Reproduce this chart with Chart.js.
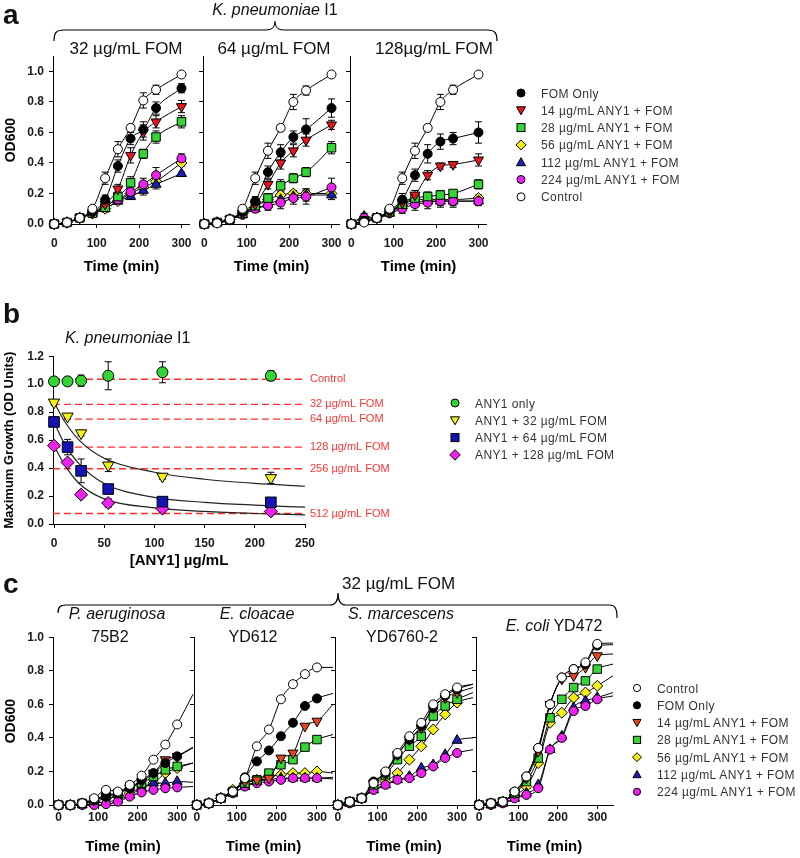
<!DOCTYPE html>
<html>
<head>
<meta charset="utf-8">
<script src="https://cdn.jsdelivr.net/npm/chart.js@4.4.1/dist/chart.umd.min.js"></script>
<style>
html, body { margin: 0; padding: 0; background: #fff; }
#page { position: relative; width: 800px; height: 858px; overflow: hidden; font-family: "Liberation Sans", Arial, sans-serif; }
#page canvas { position: absolute; }
#overlay { position: absolute; left: 0; top: 0; }
#overlay text { fill: #111; font-family: "Liberation Sans", Arial, sans-serif; }
</style>
</head>
<body>
<div id="page">
  <canvas id="a0"></canvas><canvas id="a1"></canvas><canvas id="a2"></canvas>
  <canvas id="b0"></canvas>
  <canvas id="c0"></canvas><canvas id="c1"></canvas><canvas id="c2"></canvas><canvas id="c3"></canvas>
  <svg id="overlay" width="800" height="858">
    <!-- panel a -->
    <text x="3" y="24" font-size="28" font-weight="bold">a</text>
    <text x="275" y="15" font-size="16" text-anchor="middle"><tspan font-style="italic">K. pneumoniae</tspan> I1</text>
    <path d="M54,41 C54,33 56,30 64,30 L266,30 C272,30 275,28 275,21 C275,28 278,30 284,30 L487,30 C495,30 497,33 497,41" fill="none" stroke="#000" stroke-width="1.2"/>
    <text x="126" y="54" font-size="17" text-anchor="middle">32 µg/mL FOM</text>
    <text x="274" y="54" font-size="17" text-anchor="middle">64 µg/mL FOM</text>
    <text x="434" y="54" font-size="17" text-anchor="middle">128µg/mL FOM</text>
    <!-- panel b -->
    <text x="3" y="323" font-size="28" font-weight="bold">b</text>
    <text x="65" y="343" font-size="16"><tspan font-style="italic">K. pneumoniae</tspan> I1</text>
    <!-- panel c -->
    <text x="3" y="593" font-size="28" font-weight="bold">c</text>
    <text x="342" y="589" font-size="17">32 µg/mL FOM</text>
    <path d="M58,613 C58,607 60,605 66,605 L330,605 C336,605 338,601 338,593 C338,601 340,605 346,605 L609,605 C615,605 617,608 617,618" fill="none" stroke="#000" stroke-width="1.2"/>
    <text x="117" y="619" font-size="16" font-style="italic" text-anchor="middle">P. aeruginosa</text>
    <text x="110" y="642" font-size="16" text-anchor="middle">75B2</text>
    <text x="257" y="619" font-size="16" font-style="italic" text-anchor="middle">E. cloacae</text>
    <text x="253" y="642" font-size="16" text-anchor="middle">YD612</text>
    <text x="401" y="619" font-size="16" font-style="italic" text-anchor="middle">S. marcescens</text>
    <text x="402" y="642" font-size="16" text-anchor="middle">YD6760-2</text>
    <text x="554" y="631" font-size="16" text-anchor="middle"><tspan font-style="italic">E. coli</tspan> YD472</text>
    <g id="legends"></g>
  </svg>
</div>
<script>
// ===== data =====
const seriesNames = ['FOM Only', '14 µg/mL ANY1 + FOM', '28 µg/mL ANY1 + FOM', '56 µg/mL ANY1 + FOM',
    '112 µg/mL ANY1 + FOM', '224 µg/mL ANY1 + FOM', 'Control'];

// tick values
const ticksTime = [0, 100, 200, 300];
const ticksOD = [0, 0.2, 0.4, 0.6, 0.8, 1.0];
const ticksDose = [0, 50, 100, 150, 200, 250];
const ticksMaxGrowth = [0, 0.2, 0.4, 0.6, 0.8, 1.0, 1.2];

// panel a: K. pneumoniae I1, one row per FOM level (32, 64, 128 µg/mL)
const timesA = [0, 30, 60, 90, 120, 150, 180, 210, 240, 300];
const aFomOnly = [
    [0, 0.01, 0.04, 0.08, 0.16, 0.38, 0.56, 0.62, 0.76, 0.89],
    [0, 0.01, 0.03, 0.08, 0.15, 0.34, 0.47, 0.57, 0.62, 0.76],
    [0, 0.02, 0.04, 0.09, 0.16, 0.32, 0.46, 0.54, 0.56, 0.60]];
const aAny14 = [
    [0, 0.01, 0.04, 0.07, 0.13, 0.23, 0.45, 0.60, 0.67, 0.77],
    [0, 0.01, 0.03, 0.07, 0.13, 0.26, 0.40, 0.48, 0.55, 0.65],
    [0, 0.02, 0.04, 0.08, 0.14, 0.19, 0.32, 0.38, 0.39, 0.42]];
const aAny28 = [
    [0, 0.01, 0.04, 0.07, 0.11, 0.18, 0.27, 0.46, 0.57, 0.67],
    [0, 0.01, 0.03, 0.07, 0.12, 0.17, 0.25, 0.30, 0.34, 0.50],
    [0, 0.02, 0.04, 0.08, 0.13, 0.17, 0.18, 0.19, 0.20, 0.26]];
const aAny56 = [
    [0, 0.01, 0.04, 0.07, 0.10, 0.15, 0.20, 0.24, 0.28, 0.40],
    [0, 0.01, 0.03, 0.07, 0.11, 0.16, 0.19, 0.20, 0.20, 0.20],
    [0, 0.02, 0.04, 0.08, 0.12, 0.16, 0.16, 0.16, 0.16, 0.17]];
const aAny112 = [
    [0, 0.01, 0.04, 0.07, 0.10, 0.15, 0.18, 0.22, 0.26, 0.33],
    [0, 0.01, 0.03, 0.06, 0.10, 0.13, 0.16, 0.18, 0.19, 0.19],
    [0, 0.05, 0.04, 0.07, 0.12, 0.14, 0.15, 0.15, 0.15, 0.15]];
const aAny224 = [
    [0, 0.01, 0.04, 0.07, 0.12, 0.16, 0.21, 0.26, 0.32, 0.43],
    [0, 0.01, 0.03, 0.06, 0.10, 0.12, 0.14, 0.17, 0.18, 0.24],
    [0, 0.04, 0.04, 0.07, 0.10, 0.13, 0.14, 0.15, 0.15, 0.15]];
const aControl = [
    [0, 0.01, 0.04, 0.10, 0.30, 0.49, 0.63, 0.81, 0.88, 0.98],
    [0, 0.005, 0.03, 0.10, 0.30, 0.48, 0.63, 0.80, 0.875, 0.98],
    [0, 0.01, 0.04, 0.10, 0.30, 0.48, 0.63, 0.80, 0.88, 0.98]];
// error bar half-widths, same layout
const aFomOnlyErr = [
    [0, 0.01, 0.01, 0.01, 0.03, 0.04, 0.04, 0.05, 0.04, 0.03],
    [0, 0.01, 0.01, 0.01, 0.03, 0.04, 0.05, 0.04, 0.07, 0.06],
    [0, 0.01, 0.01, 0.01, 0.04, 0.04, 0.06, 0.05, 0.04, 0.07]];
const aAny14Err = [
    [0, 0.01, 0.01, 0.01, 0.02, 0.03, 0.05, 0.05, 0.04, 0.04],
    [0, 0, 0.01, 0.01, 0.02, 0.03, 0.04, 0.04, 0.04, 0.03],
    [0, 0.01, 0.01, 0.01, 0.03, 0.03, 0.03, 0.02, 0.02, 0.04]];
const aAny28Err = [
    [0, 0, 0.01, 0.01, 0.02, 0.03, 0.04, 0.03, 0.04, 0.04],
    [0, 0, 0.01, 0.01, 0.02, 0.03, 0.04, 0.03, 0.03, 0.04],
    [0, 0.01, 0.01, 0.01, 0.02, 0.03, 0.03, 0.03, 0.02, 0.03]];
const aAny56Err = [
    [0, 0, 0.01, 0.01, 0.02, 0.02, 0.02, 0.02, 0.02, 0.02],
    [0, 0, 0.01, 0.01, 0.02, 0.02, 0.02, 0.02, 0.02, 0.02],
    [0, 0.01, 0.01, 0.01, 0.02, 0.02, 0.02, 0.02, 0.02, 0.02]];
const aAny112Err = [
    [0, 0, 0.01, 0.01, 0.02, 0.02, 0.02, 0.03, 0.03, 0.01],
    [0, 0, 0.01, 0.01, 0.02, 0.03, 0.03, 0.03, 0.04, 0.03],
    [0, 0.02, 0.01, 0.02, 0.03, 0.03, 0.03, 0.03, 0.03, 0.02]];
const aAny224Err = [
    [0, 0, 0.01, 0.01, 0.02, 0.02, 0.02, 0.04, 0.05, 0.03],
    [0, 0, 0.01, 0.01, 0.02, 0.03, 0.04, 0.04, 0.05, 0.06],
    [0, 0.02, 0.01, 0.02, 0.03, 0.04, 0.04, 0.04, 0.04, 0.03]];
const aControlErr = [
    [0, 0.01, 0.01, 0.01, 0.04, 0.05, 0.02, 0.05, 0.03, 0.01],
    [0, 0.01, 0.01, 0.01, 0.04, 0.05, 0.02, 0.05, 0.03, 0.01],
    [0, 0.01, 0.01, 0.02, 0.04, 0.05, 0.02, 0.05, 0.03, 0.01]];

// panel b: maximum growth vs ANY1 dose
const anyDose = [0, 13.5, 27, 54, 108, 216];
const bAny1Only = [1.02, 1.02, 1.025, 1.06, 1.085, 1.06];
const bAny1OnlyErr = [0.02, 0.03, 0.04, 0.10, 0.075, 0.035];
const bFom32 = [0.87, 0.77, 0.65, 0.42, 0.34, 0.33];
const bFom32Err = [0.02, 0.02, 0.02, 0.045, 0.02, 0.04];
const bFom64 = [0.73, 0.55, 0.38, 0.25, 0.16, 0.155];
const bFom64Err = [0.03, 0.055, 0.085, 0.02, 0.02, 0.02];
const bFom128 = [0.56, 0.44, 0.21, 0.15, 0.11, 0.09];
const bFom128Err = [0.02, 0.02, 0.02, 0.03, 0.03, 0.02];
const fitDose = [0, 10, 25, 50, 100, 150, 200, 250];
const fit32 = [0.87, 0.74, 0.60, 0.47, 0.37, 0.32, 0.29, 0.27];
const fit64 = [0.73, 0.58, 0.43, 0.29, 0.19, 0.155, 0.135, 0.12];
const fit128 = [0.56, 0.43, 0.29, 0.18, 0.115, 0.09, 0.075, 0.065];
const refLevels = [1.035, 0.855, 0.75, 0.55, 0.395, 0.075];
const refLabels = ['Control', '32 µg/mL FOM', '64 µg/mL FOM', '128 µg/mL FOM', '256 µg/mL FOM', '512 µg/mL FOM'];
const bLegend = ['ANY1 only', 'ANY1 + 32 µg/mL FOM', 'ANY1 + 64 µg/mL FOM', 'ANY1 + 128 µg/mL FOM'];

// panel c: 32 µg/mL FOM, rows = P. aeruginosa, E. cloacae, S. marcescens, E. coli
const timesC = [0, 30, 60, 90, 120, 150, 180, 210, 240, 270, 300];
const tailX = 340;
const cFomOnly = [
    [0, 0, 0.01, 0.03, 0.05, 0.07, 0.10, 0.15, 0.19, 0.25, 0.29],
    [0, 0.01, 0.04, 0.08, 0.165, 0.26, 0.325, 0.41, 0.49, 0.59, 0.635],
    [0, 0.02, 0.04, 0.14, 0.19, 0.30, 0.39, 0.47, 0.58, 0.65, 0.69],
    [0, 0.01, 0.02, 0.08, 0.17, 0.34, 0.60, 0.76, 0.81, 0.84, 0.95]];
const cAny14 = [
    [0, 0, 0.01, 0.03, 0.05, 0.07, 0.10, 0.14, 0.19, 0.27, 0.29],
    [0, 0.01, 0.04, 0.08, 0.14, 0.15, 0.16, 0.28, 0.31, 0.47, 0.50],
    [0, 0.02, 0.04, 0.13, 0.19, 0.30, 0.39, 0.46, 0.58, 0.64, 0.67],
    [0, 0.01, 0.02, 0.07, 0.16, 0.32, 0.60, 0.75, 0.77, 0.82, 0.89]];
const cAny28 = [
    [0, 0, 0.01, 0.03, 0.06, 0.07, 0.11, 0.13, 0.17, 0.21, 0.23],
    [0, 0.01, 0.04, 0.08, 0.13, 0.15, 0.19, 0.24, 0.27, 0.345, 0.39],
    [0, 0.02, 0.04, 0.12, 0.18, 0.27, 0.35, 0.41, 0.53, 0.59, 0.63],
    [0, 0.01, 0.02, 0.07, 0.14, 0.28, 0.52, 0.63, 0.70, 0.74, 0.81]];
const cAny56 = [
    [0, 0, 0.01, 0.02, 0.04, 0.05, 0.07, 0.11, 0.13, 0.19, 0.22],
    [0, 0.01, 0.04, 0.09, 0.13, 0.15, 0.17, 0.18, 0.19, 0.19, 0.20],
    [0, 0.02, 0.04, 0.10, 0.14, 0.19, 0.27, 0.35, 0.45, 0.54, 0.61],
    [0, 0.01, 0.02, 0.06, 0.11, 0.25, 0.49, 0.55, 0.64, 0.67, 0.71]];
const cAny112 = [
    [0, 0, 0, 0.01, 0.02, 0.03, 0.06, 0.10, 0.13, 0.13, 0.14],
    [0, 0.01, 0.04, 0.07, 0.11, 0.14, 0.15, 0.16, 0.16, 0.16, 0.16],
    [0, 0.01, 0.04, 0.09, 0.12, 0.15, 0.17, 0.22, 0.24, 0.30, 0.385],
    [0, 0, 0.01, 0.04, 0.07, 0.12, 0.33, 0.41, 0.58, 0.62, 0.64]];
const cAny224 = [
    [0, 0, 0, 0, 0.005, 0.02, 0.05, 0.075, 0.09, 0.10, 0.105],
    [0, 0.01, 0.04, 0.07, 0.11, 0.13, 0.14, 0.15, 0.16, 0.16, 0.16],
    [0, 0.01, 0.04, 0.09, 0.12, 0.15, 0.16, 0.19, 0.23, 0.28, 0.31],
    [0, 0, 0.01, 0.04, 0.06, 0.10, 0.33, 0.40, 0.56, 0.59, 0.63]];
const cControl = [
    [0, 0, 0.01, 0.04, 0.09, 0.08, 0.12, 0.175, 0.27, 0.36, 0.48],
    [0, 0.01, 0.04, 0.08, 0.16, 0.35, 0.45, 0.63, 0.72, 0.78, 0.82],
    [0, 0.02, 0.04, 0.13, 0.20, 0.31, 0.41, 0.49, 0.60, 0.66, 0.70],
    [0, 0.01, 0.02, 0.08, 0.17, 0.34, 0.60, 0.76, 0.81, 0.85, 0.96]];
// value of each fitted curve at the right edge (x = 340), per strain
const cTail = {
    fom: [0.345, 0.665, 0.72, 0.955], any14: [0.34, 0.60, 0.70, 0.90], any28: [0.25, 0.42, 0.67, 0.84],
    any56: [0.25, 0.19, 0.64, 0.77], any112: [0.135, 0.155, 0.40, 0.67], any224: [0.11, 0.165, 0.33, 0.65],
    control: [0.66, 0.82, 0.72, 0.965]
};

// ===== styling =====
const FONT = '"Liberation Sans", Arial, sans-serif';
const styles = [
    { color: '#000000', shape: 'circle', rot: 0, r: 4.5 },      // FOM Only
    { color: '#e4161c', shape: 'triangle', rot: 180, r: 5.8 },  // 14
    { color: '#35d435', shape: 'rect', rot: 0, r: 6 },          // 28
    { color: '#f4f016', shape: 'rectRot', rot: 0, r: 5.5 },     // 56
    { color: '#1e1eae', shape: 'triangle', rot: 0, r: 5.8 },    // 112
    { color: '#ee22ee', shape: 'circle', rot: 0, r: 4.5 },      // 224
    { color: '#ffffff', shape: 'circle', rot: 0, r: 4.5 }       // Control
];
const stylesC = styles.map((s, i) => i === 1 ? Object.assign({}, s, { color: '#e2461e' }) : s);
const stylesB = [
    { color: '#35d435', shape: 'circle', rot: 0, r: 5.5 },
    { color: '#f4f016', shape: 'triangle', rot: 180, r: 6.5 },
    { color: '#1414b4', shape: 'rect', rot: 0, r: 7.5 },
    { color: '#ee22ee', shape: 'rectRot', rot: 0, r: 6.5 }
];

// --- error bars drawn under the markers ---
const errorBars = {
    id: 'errorBars',
    beforeDatasetsDraw(chart) {
        const ctx = chart.ctx, ys = chart.scales.y;
        chart.data.datasets.forEach((ds, i) => {
            if (!ds.errors) return;
            const meta = chart.getDatasetMeta(i);
            ctx.save();
            ctx.strokeStyle = '#000';
            ctx.lineWidth = 1;
            ds.errors.forEach((e, j) => {
                if (!e || !meta.data[j]) return;
                const px = meta.data[j].x, v = ds.data[j].y;
                const top = ys.getPixelForValue(v + e), bot = ys.getPixelForValue(v - e);
                ctx.beginPath();
                ctx.moveTo(px, top); ctx.lineTo(px, bot);
                ctx.moveTo(px - 3.5, top); ctx.lineTo(px + 3.5, top);
                ctx.moveTo(px - 3.5, bot); ctx.lineTo(px + 3.5, bot);
                ctx.stroke();
            });
            ctx.restore();
        });
    }
};

// --- labels at the end of the dashed reference lines (panel b) ---
const refLabelPlugin = {
    id: 'refLabels',
    afterDatasetsDraw(chart) {
        const { ctx, chartArea, scales: { y } } = chart;
        ctx.save();
        ctx.fillStyle = '#ff3434';
        ctx.font = '11px ' + FONT;
        ctx.textBaseline = 'middle';
        refLabels.forEach((t, i) => ctx.fillText(t, chartArea.right + 5, y.getPixelForValue(refLevels[i])));
        ctx.restore();
    }
};

function axis(s, size, horizontal) {
    return {
        type: 'linear', min: s.min, max: s.max,
        afterBuildTicks: sc => { sc.ticks = s.ticks.map(v => ({ value: v })); },
        afterFit: sc => { if (horizontal) sc.height = size; else sc.width = size; },
        border: { display: true, color: '#000', width: 1 },
        grid: { drawOnChartArea: false, drawTicks: true, tickLength: 4, color: '#000' },
        ticks: {
            autoSkip: false, maxRotation: 0, minRotation: 0,
            padding: s.pad, color: '#1a1a1a', font: { family: FONT, size: 12, weight: 'bold' },
            callback: v => s.labels ? (s.fmt ? v.toFixed(s.fmt) : String(v)) : ''
        },
        title: s.title ? {
            display: true, text: s.title, color: '#000',
            font: { family: FONT, size: s.titleSize, weight: 'bold' },
            padding: { top: s.titlePad || 0, bottom: 0 }
        } : { display: false }
    };
}

// g = plot area in page pixels plus room for the axes
function makePlot(id, g, xs, ys, datasets, extra) {
    const cv = document.getElementById(id);
    const w = g.r - g.l + g.yw + g.pr, h = g.b - g.t + g.pt + g.xh;
    cv.width = w; cv.height = h;
    cv.style.left = (g.l - g.yw) + 'px';
    cv.style.top = (g.t - g.pt) + 'px';
    cv.style.width = w + 'px'; cv.style.height = h + 'px';
    return new Chart(cv, {
        type: 'scatter',
        data: { datasets: datasets },
        options: {
            responsive: false, animation: false, events: [],
            layout: { padding: { left: 0, right: g.pr, top: g.pt, bottom: 0 }, autoPadding: false },
            plugins: { legend: { display: false }, tooltip: { enabled: false } },
            scales: { x: axis(xs, g.xh, true), y: axis(ys, g.yw, false) }
        },
        plugins: [errorBars].concat(extra || [])
    });
}

function growthSet(times, vals, st, errs, tail) {
    const pts = times.map((t, i) => ({ x: t, y: vals[i] }));
    const radius = pts.map(() => st.r);
    if (tail != null) { pts.push({ x: tailX, y: tail }); radius.push(0); }
    return {
        data: pts, errors: errs, showLine: true, borderColor: '#000', borderWidth: 1,
        cubicInterpolationMode: 'monotone', pointStyle: st.shape, pointRotation: st.rot,
        pointRadius: radius, pointBackgroundColor: st.color, pointBorderColor: '#000',
        pointBorderWidth: 1, clip: false
    };
}

// ===== panel a =====
const aSeries = [aFomOnly, aAny14, aAny28, aAny56, aAny112, aAny224, aControl];
const aErrors = [aFomOnlyErr, aAny14Err, aAny28Err, aAny56Err, aAny112Err, aAny224Err, aControlErr];
const drawOrder = [6, 0, 1, 2, 5, 4, 3];   // first is drawn on top
const geoA = [{ l: 53, r: 192 }, { l: 203, r: 342 }, { l: 350, r: 489 }];
geoA.forEach((g, k) => {
    const geo = Object.assign({ t: 52, b: 224, yw: k === 0 ? 53 : 10, xh: 52, pt: 8, pr: 8 }, g);
    const sets = drawOrder.map(i => growthSet(timesA, aSeries[i][k], styles[i], aErrors[i][k]));
    makePlot('a' + k, geo,
        { min: -3, max: 320, ticks: ticksTime, pad: 8, labels: true, title: 'Time (min)', titleSize: 15 },
        { min: 0, max: 1.1, ticks: ticksOD, pad: 5, labels: k === 0, fmt: 1, title: k === 0 ? 'OD600' : null, titleSize: 14, titlePad: 3 },
        sets);
});

// ===== panel b =====
const bSeries = [bAny1Only, bFom32, bFom64, bFom128];
const bErrors = [bAny1OnlyErr, bFom32Err, bFom64Err, bFom128Err];
const bSets = bSeries.map((vals, i) => {
    const st = stylesB[i];
    return {
        data: anyDose.map((d, j) => ({ x: d, y: vals[j] })), errors: bErrors[i], showLine: false,
        pointStyle: st.shape, pointRotation: st.rot, pointRadius: st.r, pointBackgroundColor: st.color,
        pointBorderColor: '#000', pointBorderWidth: 1, clip: false
    };
});
[fit32, fit64, fit128].forEach(f => bSets.push({
    data: fitDose.map((d, j) => ({ x: d, y: f[j] })), showLine: true, borderColor: '#222', borderWidth: 1.2,
    cubicInterpolationMode: 'monotone', pointRadius: 0
}));
refLevels.forEach(v => bSets.push({
    data: [{ x: -1, y: v }, { x: 250, y: v }], showLine: true, borderColor: '#ff2e2e', borderWidth: 1.3,
    borderDash: [7, 4], pointRadius: 0
}));
makePlot('b0', { l: 53, r: 305, t: 352, b: 524, yw: 53, xh: 46, pt: 8, pr: 95 },
    { min: -1, max: 250, ticks: ticksDose, pad: 8, labels: true, title: '[ANY1] µg/mL', titleSize: 15 },
    { min: 0, max: 1.2, ticks: ticksMaxGrowth, pad: 5, labels: true, fmt: 1, title: 'Maximum Growth (OD Units)', titleSize: 13, titlePad: 2 },
    bSets, [refLabelPlugin]);

// ===== panel c =====
const cSeries = [cFomOnly, cAny14, cAny28, cAny56, cAny112, cAny224, cControl];
const cTails = [cTail.fom, cTail.any14, cTail.any28, cTail.any56, cTail.any112, cTail.any224, cTail.control];
const geoC = [
    { l: 53, r: 193, yw: 53, xmin: -14 }, { l: 194, r: 333, yw: 8, xmin: -7 },
    { l: 335, r: 473, yw: 8, xmin: -7 }, { l: 476, r: 613, yw: 8, xmin: -8 }];
geoC.forEach((g, k) => {
    const geo = { l: g.l, r: g.r, t: 633, b: 805, yw: g.yw, xh: 51, pt: 8, pr: 8 };
    const sets = drawOrder.map(i => growthSet(timesC, cSeries[i][k], stylesC[i], null, cTails[i][k]));
    makePlot('c' + k, geo,
        { min: g.xmin, max: tailX, ticks: ticksTime, pad: 1, labels: true, title: 'Time (min)', titleSize: 15 },
        { min: 0, max: 1.0, ticks: ticksOD, pad: 5, labels: k === 0, fmt: 1, title: k === 0 ? 'OD600' : null, titleSize: 14, titlePad: 3 },
        sets);
});

// ===== legends (svg) =====
function marker(st, x, y, s) {
    const f = 'fill="' + st.color + '" stroke="#000" stroke-width="1"';
    if (st.shape === 'circle') return '<circle cx="' + x + '" cy="' + y + '" r="' + (4 * s) + '" ' + f + '/>';
    if (st.shape === 'rect') { const h = 4 * s; return '<rect x="' + (x - h) + '" y="' + (y - h) + '" width="' + 2 * h + '" height="' + 2 * h + '" ' + f + '/>'; }
    if (st.shape === 'rectRot') { const h = 5 * s; return '<polygon points="' + [x, y - h, x + h, y, x, y + h, x - h, y].join(',') + '" ' + f + '/>'; }
    const h = 4.5 * s, d = st.rot ? -1 : 1;
    return '<polygon points="' + [x - h, y + d * 3.5 * s, x + h, y + d * 3.5 * s, x, y - d * 4.5 * s].join(',') + '" ' + f + '/>';
}
function legend(items, x, y0, dy) {
    return items.map((it, i) => {
        const y = y0 + i * dy;
        return marker(it.st, x, y, it.s || 1) +
            '<text x="' + (x + 20) + '" y="' + (y + 4.5) + '" font-size="12" letter-spacing="0.4" style="fill:#333">' + it.name + '</text>';
    }).join('');
}
const legA = seriesNames.map((n, i) => ({ name: n, st: styles[i] }));
const legB = bLegend.map((n, i) => ({ name: n, st: stylesB[i], s: i === 3 ? 1.05 : 1 }));
const cOrder = [6, 0, 1, 2, 3, 4, 5];
const legC = cOrder.map(i => ({ name: seriesNames[i], st: stylesC[i], s: 0.9 }));
document.getElementById('legends').innerHTML =
    legend(legA, 521, 93, 17.3) + legend(legB, 455, 403, 17.3) + legend(legC, 637, 688, 17.3);
</script>
</body>
</html>
